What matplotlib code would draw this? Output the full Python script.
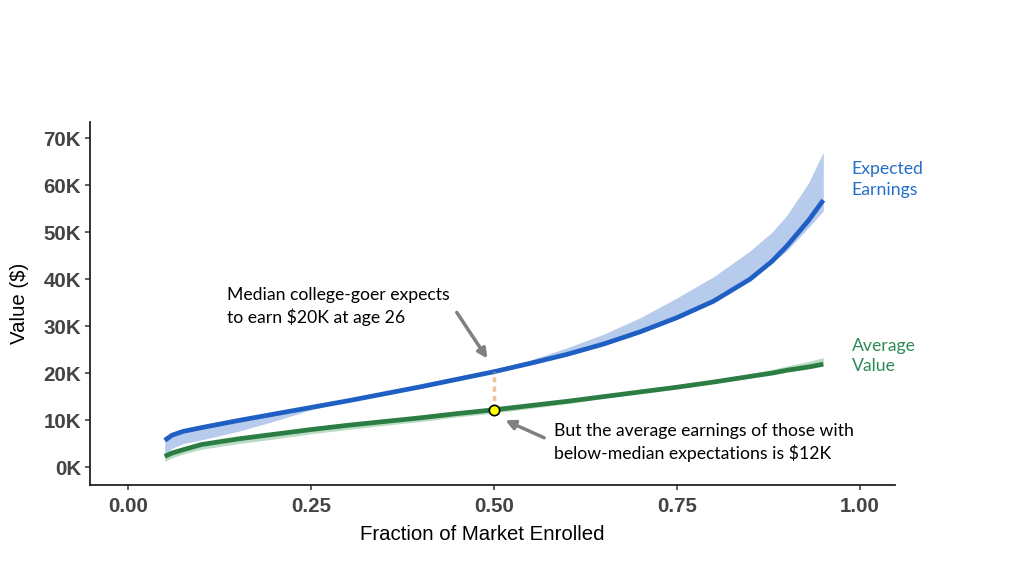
import numpy as np
import matplotlib.pyplot as plt

# fraction enrolled (x) and values in $K
frac = [0.05, 0.06, 0.075, 0.1, 0.15, 0.2, 0.25, 0.3, 0.35, 0.4, 0.45, 0.5,
        0.55, 0.6, 0.65, 0.7, 0.75, 0.8, 0.85, 0.88, 0.9, 0.93, 0.95]

expected = [5.7, 6.8, 7.6, 8.4, 9.9, 11.3, 12.7, 14.1, 15.6, 17.1, 18.7, 20.3,
            22.1, 24.0, 26.2, 28.8, 31.8, 35.3, 40.0, 43.8, 47.0, 52.5, 56.8]
expected_lo = [2.6, 4.0, 5.0, 5.8, 7.6, 9.8, 12.2, 14.0, 15.5, 17.0, 18.6, 20.2,
               22.0, 23.9, 26.1, 28.7, 31.6, 35.1, 39.7, 43.4, 46.0, 51.0, 54.5]
expected_hi = [5.9, 7.1, 8.0, 8.8, 10.3, 11.7, 13.1, 14.6, 16.1, 17.7, 19.3, 20.8,
               22.8, 25.4, 28.3, 31.8, 36.0, 40.5, 46.0, 50.0, 53.5, 60.5, 67.0]

avg_value = [2.3, 3.0, 3.7, 4.8, 6.0, 7.0, 8.0, 8.9, 9.7, 10.5, 11.4, 12.2,
             13.1, 14.0, 15.0, 16.0, 17.0, 18.1, 19.3, 20.0, 20.6, 21.3, 21.9]
avg_lo = [1.2, 2.0, 2.8, 3.8, 5.0, 6.0, 7.1, 8.0, 8.9, 9.7, 10.7, 11.5,
          12.5, 13.5, 14.7, 15.8, 16.9, 18.0, 19.2, 19.9, 20.5, 21.2, 21.7]
avg_hi = [2.3, 3.0, 3.7, 4.8, 6.0, 7.0, 8.0, 8.9, 9.7, 10.5, 11.4, 12.2,
          13.1, 14.0, 15.0, 16.0, 17.2, 18.5, 19.9, 20.8, 21.5, 22.5, 23.3]

median_x = 0.5
median_expected = 20.3
median_avg = 12.2

xticks = [0.0, 0.25, 0.5, 0.75, 1.0]
xtick_labels = ['0.00', '0.25', '0.50', '0.75', '1.00']
yticks = [0, 10, 20, 30, 40, 50, 60, 70]
ytick_labels = ['0K', '10K', '20K', '30K', '40K', '50K', '60K', '70K']

blue = '#1f5fc4'
blue_band = '#b7cbec'
green = '#2b7d44'
green_band = '#b9dcc3'
note_font = ['Lato', 'DejaVu Sans']
axis_font = ['Liberation Sans', 'DejaVu Sans']

fig = plt.figure(figsize=(10.24, 5.76), dpi=100)
ax = fig.add_axes([0.088, 0.158, 0.786, 0.63])

ax.fill_between(frac, expected_lo, expected_hi, color=blue_band, lw=0)
ax.fill_between(frac, avg_lo, avg_hi, color=green_band, lw=0)
ax.plot(frac, expected, color=blue, lw=3.4, solid_capstyle='butt')
ax.plot(frac, avg_value, color=green, lw=3.4, solid_capstyle='butt')

# dotted guide between the two curves at the median
ax.plot([median_x, median_x], [median_avg, median_expected], color='#f2c39a',
        lw=2.5, ls=(0, (1.5, 1.2)), zorder=3)
ax.scatter([median_x], [median_avg], s=55, color='#ffff00', edgecolor='black',
           linewidth=1.2, zorder=5)

ax.annotate('', xy=(0.493, 22.6), xytext=(0.447, 33.4),
            arrowprops=dict(arrowstyle='-|>', color='#808080', lw=2.5,
                            mutation_scale=14))
ax.annotate('', xy=(0.512, 10.2), xytext=(0.572, 6.0),
            arrowprops=dict(arrowstyle='-|>', color='#808080', lw=2.5,
                            mutation_scale=14))

ax.text(0.135, 38.3, 'Median college-goer expects\nto earn $20K at age 26',
        fontsize=12.7, family=note_font, va='top', ha='left', linespacing=1.35)
ax.text(0.582, 9.3, 'But the average earnings of those with\nbelow-median expectations is $12K',
        fontsize=12.7, family=note_font, va='top', ha='left', linespacing=1.35)
ax.text(0.989, 61.2, 'Expected\nEarnings', color='#2470c8', fontsize=12.7,
        family=note_font, va='center', ha='left', linespacing=1.35)
ax.text(0.989, 23.6, 'Average\nValue', color='#2e8b57', fontsize=12.7,
        family=note_font, va='center', ha='left', linespacing=1.35)

ax.set_xlim(-0.052, 1.048)
ax.set_ylim(-3.8, 73.4)
ax.set_xticks(xticks)
ax.set_xticklabels(xtick_labels)
ax.set_yticks(yticks)
ax.set_yticklabels(ytick_labels)
for lab in ax.get_xticklabels() + ax.get_yticklabels():
    lab.set_fontweight('bold')
    lab.set_family(axis_font)
    lab.set_fontsize(14.8)
    lab.set_color('#444444')

ax.set_xlabel('Fraction of Market Enrolled', fontsize=14.7, family=axis_font)
ax.set_ylabel('Value ($)', fontsize=14.7, family=axis_font)
ax.xaxis.set_label_coords(0.487, -0.11)
ax.yaxis.set_label_coords(-0.076, 0.5)

for side in ['top', 'right']:
    ax.spines[side].set_visible(False)
for side in ['left', 'bottom']:
    ax.spines[side].set_color('#222222')
    ax.spines[side].set_linewidth(1.3)
ax.tick_params(length=3.5, width=1.1, color='#333333', pad=3)
ax.tick_params(axis='x', pad=5)

fig.savefig('out.png', dpi=100)
